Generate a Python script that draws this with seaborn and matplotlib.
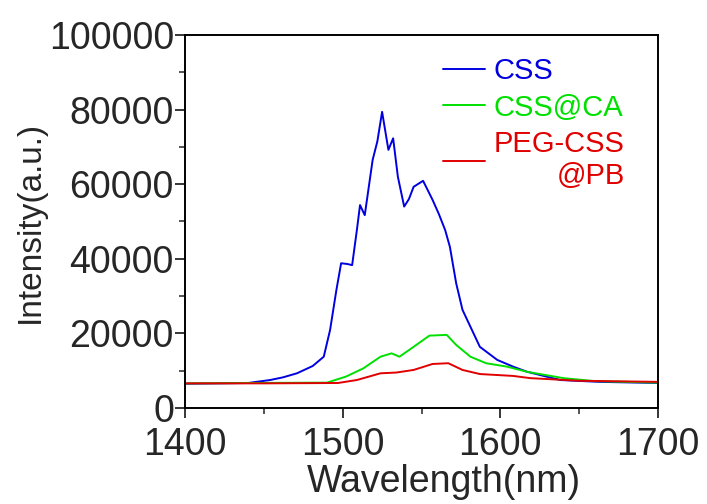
import numpy as np
import pandas as pd
import matplotlib
matplotlib.use("Agg")
from matplotlib import pyplot as plt
from matplotlib.ticker import MultipleLocator
import seaborn as sns

# spectra
wl_css = [1400, 1420, 1440, 1454, 1462, 1471, 1481, 1488, 1492, 1496, 1499, 1503, 1506,
          1509, 1511, 1514, 1519, 1522, 1525, 1529, 1532, 1535, 1539, 1542, 1545, 1551,
          1557, 1561, 1565, 1568, 1572, 1576, 1581, 1587, 1598, 1608, 1617, 1638, 1663, 1700]
css = [6500, 6600, 6700, 7500, 8200, 9300, 11260, 13750, 20900, 31600, 38800, 38600, 38300,
       47700, 54400, 51700, 66500, 71500, 79400, 69200, 72300, 62000, 54000, 56000, 59300,
       60900, 55800, 52000, 47700, 43200, 33400, 26300, 21800, 16400, 12900, 11100, 9700,
       7500, 7000, 6700]

wl_ca = [1400, 1440, 1490, 1502, 1513, 1524, 1531, 1536, 1545, 1555, 1566, 1572,
         1581, 1591, 1604, 1617, 1640, 1660, 1700]
css_ca = [6600, 6700, 6800, 8400, 10600, 13750, 14650, 13750, 16400, 19400, 19600, 16900,
          13750, 12000, 11100, 9700, 8000, 7200, 6800]

wl_pb = [1400, 1450, 1497, 1509, 1524, 1534, 1545, 1557, 1567, 1576, 1587, 1608,
         1619, 1650, 1700]
peg_pb = [6600, 6600, 6700, 7500, 9300, 9500, 10200, 11800, 12000, 10200, 9100, 8600,
          8000, 7300, 7000]

labels = ["CSS", "CSS@CA", "PEG-CSS\n@PB"]
colors = ["#0000e0", "#00e000", "#e00000"]

df = pd.concat([
    pd.DataFrame({"wl": wl_css, "I": css, "sample": labels[0]}),
    pd.DataFrame({"wl": wl_ca, "I": css_ca, "sample": labels[1]}),
    pd.DataFrame({"wl": wl_pb, "I": peg_pb, "sample": labels[2]}),
])

sns.set_style("ticks")
plt.rcParams["font.family"] = ["Liberation Sans", "DejaVu Sans"]

fig = plt.figure(figsize=(7.07, 5.04), dpi=100)
ax = fig.add_axes([0.2617, 0.1905, 0.669, 0.7401])
sns.lineplot(data=df, x="wl", y="I", hue="sample", palette=colors, linewidth=1.4,
             sort=False, ax=ax)

ax.set_xlim(1400, 1700)
ax.set_ylim(0, 100000)
ax.xaxis.set_major_locator(MultipleLocator(100))
ax.xaxis.set_minor_locator(MultipleLocator(50))
ax.yaxis.set_major_locator(MultipleLocator(20000))
ax.yaxis.set_minor_locator(MultipleLocator(10000))
ax.tick_params(which="major", length=7, width=1.3, labelsize=27, direction="out", pad=1)
ax.tick_params(axis="x", which="major", pad=7)
ax.tick_params(which="minor", length=4, width=1.1, direction="out")
for s in ax.spines.values():
    s.set_linewidth(1.4)
    s.set_color("black")

ax.set_xlabel("Wavelength(nm)", fontsize=27)
ax.xaxis.set_label_coords(0.547, -0.15)
ax.set_ylabel("Intensity(a.u.)", fontsize=24, labelpad=2)

leg = ax.legend(loc="upper right", bbox_to_anchor=(0.985, 1.01), frameon=False,
                fontsize=21, handlelength=1.45, handletextpad=0.3, labelspacing=0.28,
                labelcolor="linecolor")
leg.get_texts()[2].set_multialignment("right")

fig.savefig("out.png", dpi=100)
